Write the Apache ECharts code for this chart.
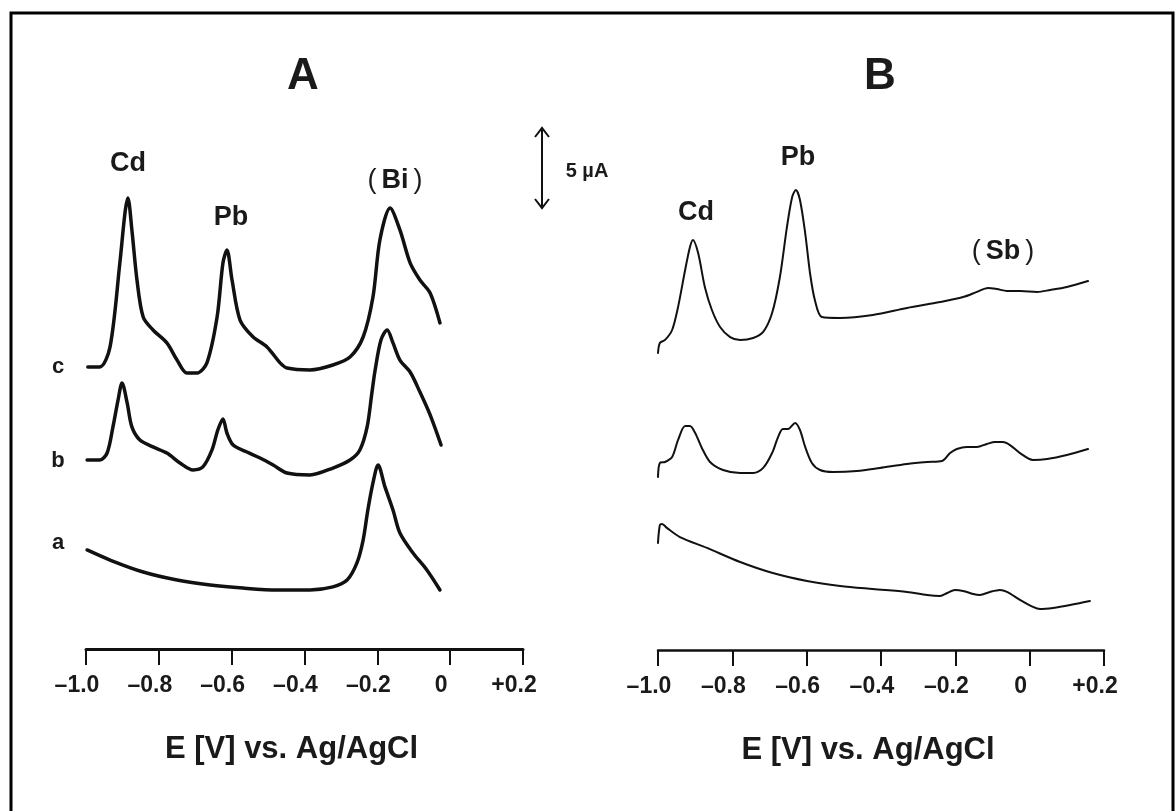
<!DOCTYPE html>
<html>
<head>
<meta charset="utf-8">
<script src="https://cdn.jsdelivr.net/npm/echarts@6/dist/echarts.min.js"></script>
<style>
html,body{margin:0;padding:0;background:#fff;}
#chart{width:1176px;height:811px;}
</style>
</head>
<body>
<div id="chart"></div>
<script>
// ---- Data: potential E [V] vs. current (µA, offset traces) ----
const tickValues = [-1.0, -0.8, -0.6, -0.4, -0.2, 0, 0.2];
const tickLabels = ['\u20131.0', '\u20130.8', '\u20130.6', '\u20130.4', '\u20130.2', '0', '+0.2'];
const panelTitles = ['A', 'B'];
const traceLabels = ['c', 'b', 'a'];
const axisTitle = 'E [V] vs. Ag/AgCl';
const scaleLabel = '5 \u00b5A';

// Panel A, trace c
const panelA_c = [[-0.995,17.63],[-0.962,17.63],[-0.934,18.88],[-0.907,24.13],[-0.893,27.25],[-0.885,28.19],[-0.874,26.19],[-0.860,23.06],[-0.843,20.75],[-0.816,19.94],[-0.778,19.13],[-0.750,18.06],[-0.723,17.25],[-0.695,17.25],[-0.668,17.88],[-0.640,20.75],[-0.624,24.13],[-0.613,24.94],[-0.599,23.06],[-0.577,20.56],[-0.541,19.5],[-0.503,18.88],[-0.467,17.88],[-0.448,17.56],[-0.385,17.44],[-0.322,17.75],[-0.275,18.25],[-0.239,19.5],[-0.212,22.0],[-0.193,25.56],[-0.165,27.56],[-0.138,26.19],[-0.110,24.13],[-0.083,23.06],[-0.055,22.25],[-0.028,20.38]];
// Panel A, trace b
const panelA_b = [[-0.997,11.81],[-0.962,11.81],[-0.942,12.25],[-0.926,13.88],[-0.912,15.56],[-0.901,16.63],[-0.887,15.38],[-0.874,13.88],[-0.852,13.06],[-0.816,12.63],[-0.778,12.25],[-0.742,11.63],[-0.706,11.19],[-0.679,11.38],[-0.654,12.44],[-0.638,13.69],[-0.624,14.38],[-0.613,13.5],[-0.596,12.75],[-0.558,12.31],[-0.522,11.94],[-0.486,11.5],[-0.448,11.0],[-0.385,10.88],[-0.322,11.31],[-0.275,11.81],[-0.248,12.44],[-0.228,13.88],[-0.215,16.0],[-0.206,17.44],[-0.190,19.31],[-0.173,19.94],[-0.157,19.13],[-0.138,18.06],[-0.110,17.31],[-0.083,16.06],[-0.055,14.63],[-0.025,12.75]];
// Panel A, trace a
const panelA_a = [[-0.997,6.19],[-0.934,5.56],[-0.843,4.81],[-0.750,4.31],[-0.659,4.0],[-0.569,3.81],[-0.476,3.69],[-0.385,3.69],[-0.322,3.88],[-0.283,4.31],[-0.256,5.38],[-0.239,6.81],[-0.226,8.69],[-0.212,10.38],[-0.198,11.5],[-0.179,10.13],[-0.157,8.69],[-0.138,7.25],[-0.102,6.0],[-0.064,4.94],[-0.028,3.69]];
// Panel B, top trace
const panelB_top = [[-1.0,18.56],[-0.995,19.19],[-0.981,19.38],[-0.962,20.0],[-0.946,21.44],[-0.927,23.75],[-0.914,25.19],[-0.906,25.63],[-0.892,24.81],[-0.874,22.69],[-0.855,21.25],[-0.833,20.19],[-0.806,19.56],[-0.779,19.38],[-0.744,19.5],[-0.717,19.88],[-0.693,21.06],[-0.672,23.31],[-0.653,26.44],[-0.639,28.31],[-0.629,28.75],[-0.618,28.13],[-0.604,26.06],[-0.591,23.56],[-0.578,21.88],[-0.559,20.81],[-0.510,20.75],[-0.422,20.94],[-0.330,21.38],[-0.241,21.75],[-0.179,22.06],[-0.142,22.38],[-0.112,22.63],[-0.088,22.56],[-0.061,22.44],[-0.026,22.44],[0.020,22.38],[0.055,22.5],[0.100,22.69],[0.157,23.06]];
// Panel B, middle trace
const panelB_mid = [[-1.0,10.81],[-0.995,11.69],[-0.981,11.75],[-0.962,12.06],[-0.946,13.13],[-0.927,14.0],[-0.914,14.0],[-0.900,13.56],[-0.882,12.63],[-0.860,11.75],[-0.825,11.25],[-0.779,11.06],[-0.744,11.06],[-0.717,11.38],[-0.693,12.31],[-0.677,13.31],[-0.664,13.81],[-0.650,13.81],[-0.631,14.19],[-0.618,13.75],[-0.604,12.69],[-0.586,11.69],[-0.564,11.25],[-0.529,11.13],[-0.465,11.19],[-0.403,11.38],[-0.330,11.63],[-0.276,11.75],[-0.236,11.81],[-0.214,12.31],[-0.196,12.56],[-0.169,12.69],[-0.142,12.69],[-0.115,12.88],[-0.093,13.0],[-0.072,13.0],[-0.053,12.81],[-0.026,12.31],[0.009,11.88],[0.047,11.94],[0.100,12.19],[0.157,12.56]];
// Panel B, bottom trace
const panelB_bot = [[-1.0,6.69],[-0.995,7.81],[-0.989,7.88],[-0.976,7.63],[-0.941,7.06],[-0.868,6.38],[-0.779,5.5],[-0.691,4.81],[-0.599,4.31],[-0.510,4.0],[-0.422,3.81],[-0.330,3.63],[-0.276,3.44],[-0.241,3.38],[-0.222,3.56],[-0.201,3.75],[-0.179,3.69],[-0.152,3.5],[-0.134,3.44],[-0.107,3.63],[-0.080,3.75],[-0.061,3.63],[-0.026,3.13],[0.009,2.69],[0.028,2.56],[0.063,2.63],[0.109,2.81],[0.162,3.06]];

const FONT = '"Liberation Sans", Arial, Helvetica, sans-serif';
const INK = '#111';

function xAxisFor(gridIndex, lineW) {
  return {
    gridIndex: gridIndex, type: 'value', min: -1.0, max: 0.2, interval: 0.2,
    name: axisTitle, nameLocation: 'middle', nameGap: 85,
    nameTextStyle: {fontFamily: FONT, fontWeight: 'bold', fontSize: 31, color: '#1a1a1a', padding: [0, 26, 0, 0]},
    axisLine: {show: true, onZero: false, lineStyle: {color: INK, width: lineW}},
    axisTick: {show: true, inside: false, length: 16, lineStyle: {color: INK, width: 2}},
    axisLabel: {
      margin: 25, fontFamily: FONT, fontWeight: 'bold', fontSize: 23, color: '#1a1a1a',
      padding: [0, 18, 0, 0],
      formatter: function (v) { const i = Math.round((v + 1.0) / 0.2); return tickLabels[i] || ''; }
    },
    splitLine: {show: false}
  };
}
function yAxisFor(gridIndex) {
  return {gridIndex: gridIndex, type: 'value', min: 0, max: 35, show: false};
}
function trace(data, gi, w, smooth) {
  return {
    type: 'line', xAxisIndex: gi, yAxisIndex: gi, data: data, showSymbol: false, symbol: 'none',
    smooth: smooth, lineStyle: {color: INK, width: w, cap: 'round', join: 'round'}, silent: true
  };
}
function txt(x, y, text, size, extra) {
  return Object.assign({
    type: 'text', x: x, y: y,
    style: {text: text, fontFamily: FONT, fontWeight: 'bold', fontSize: size, fill: '#1a1a1a', align: 'center', verticalAlign: 'middle'}
  }, extra || {});
}
function paren(x, y, inner, size) {
  return {
    type: 'text', x: x, y: y,
    style: {
      text: '{p|(}{b|' + inner + '}{p|)}', align: 'center', verticalAlign: 'middle',
      rich: {
        p: {fontFamily: FONT, fontWeight: 'normal', fontSize: size, fill: '#1a1a1a', padding: [0, 5, 0, 5]},
        b: {fontFamily: FONT, fontWeight: 'bold', fontSize: size, fill: '#1a1a1a'}
      }
    }
  };
}

const chart = echarts.init(document.getElementById('chart'), null, {renderer: 'canvas'});
chart.setOption({
  animation: false,
  backgroundColor: '#ffffff',
  grid: [
    {left: 86, right: 1176 - 523, top: 89, bottom: 811 - 649},
    {left: 658, right: 1176 - 1104, top: 90, bottom: 811 - 650}
  ],
  xAxis: [xAxisFor(0, 3), xAxisFor(1, 2.5)],
  yAxis: [yAxisFor(0), yAxisFor(1)],
  series: [
    trace(panelA_c, 0, 3.5, 0.3),
    trace(panelA_b, 0, 3.5, 0.3),
    trace(panelA_a, 0, 3.5, 0.3),
    trace(panelB_top, 1, 2, 0.3),
    trace(panelB_mid, 1, 2, 0.3),
    trace(panelB_bot, 1, 2, 0.3)
  ],
  graphic: [
    {type: 'rect', shape: {x: 11, y: 13, width: 1162, height: 830}, style: {fill: 'none', stroke: '#000', lineWidth: 3}, silent: true},
    txt(303, 77, panelTitles[0], 44),
    txt(880, 77, panelTitles[1], 44),
    txt(58, 367, traceLabels[0], 22),
    txt(58, 461, traceLabels[1], 22),
    txt(58, 543, traceLabels[2], 22),
    txt(128, 164, 'Cd', 27),
    txt(231, 218, 'Pb', 27),
    paren(395, 181, 'Bi', 27),
    txt(696, 213, 'Cd', 27),
    txt(798, 158, 'Pb', 27),
    paren(1003, 252, 'Sb', 27),
    // 5 µA scale bar
    {type: 'line', shape: {x1: 542, y1: 129, x2: 542, y2: 207}, style: {stroke: INK, lineWidth: 2}},
    {type: 'polyline', shape: {points: [[535, 137], [542, 128], [549, 137]]}, style: {stroke: INK, lineWidth: 2, fill: 'none'}},
    {type: 'polyline', shape: {points: [[535, 199], [542, 208], [549, 199]]}, style: {stroke: INK, lineWidth: 2, fill: 'none'}},
    txt(587, 171, scaleLabel, 20)
  ]
});
</script>
</body>
</html>
